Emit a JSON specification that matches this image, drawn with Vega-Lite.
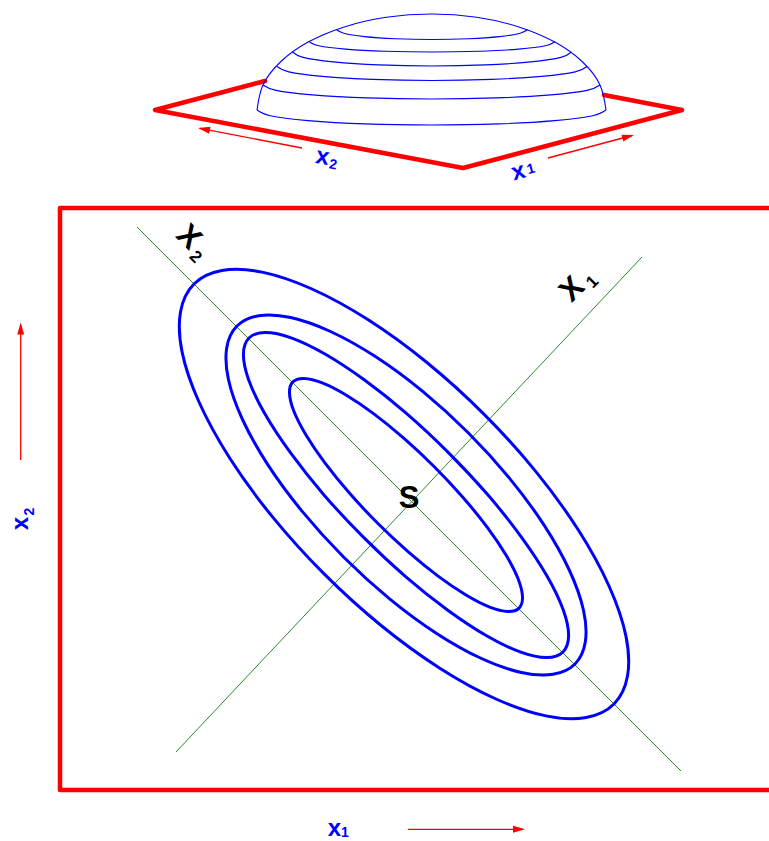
{
  "$schema": "https://vega.github.io/schema/vega-lite/v6.json",
  "width": 769,
  "height": 841,
  "padding": 0,
  "autosize": {"type": "none"},
  "config": {"view": {"stroke": null}},
  "datasets": {
    "ellipses": [
      {"ring": 1, "i": 0, "x": 519.1, "y": 608.1}, {"ring": 1, "i": 1, "x": 522.5, "y": 596.9},
      {"ring": 1, "i": 2, "x": 518.1, "y": 578.7}, {"ring": 1, "i": 3, "x": 506.0, "y": 555.0},
      {"ring": 1, "i": 4, "x": 487.1, "y": 527.1}, {"ring": 1, "i": 5, "x": 462.6, "y": 497.0},
      {"ring": 1, "i": 6, "x": 434.3, "y": 466.7}, {"ring": 1, "i": 7, "x": 404.0, "y": 438.4},
      {"ring": 1, "i": 8, "x": 373.9, "y": 413.9}, {"ring": 1, "i": 9, "x": 346.0, "y": 395.0},
      {"ring": 1, "i": 10, "x": 322.3, "y": 382.9}, {"ring": 1, "i": 11, "x": 304.1, "y": 378.5},
      {"ring": 1, "i": 12, "x": 292.9, "y": 381.9}, {"ring": 1, "i": 13, "x": 289.5, "y": 393.1},
      {"ring": 1, "i": 14, "x": 293.9, "y": 411.3}, {"ring": 1, "i": 15, "x": 306.0, "y": 435.0},
      {"ring": 1, "i": 16, "x": 324.9, "y": 462.9}, {"ring": 1, "i": 17, "x": 349.4, "y": 493.0},
      {"ring": 1, "i": 18, "x": 377.7, "y": 523.3}, {"ring": 1, "i": 19, "x": 408.0, "y": 551.6},
      {"ring": 1, "i": 20, "x": 438.1, "y": 576.1}, {"ring": 1, "i": 21, "x": 466.0, "y": 595.0},
      {"ring": 1, "i": 22, "x": 489.7, "y": 607.1}, {"ring": 1, "i": 23, "x": 507.9, "y": 611.5},

      {"ring": 2, "i": 0, "x": 563.0, "y": 652.0}, {"ring": 2, "i": 1, "x": 568.6, "y": 635.6},
      {"ring": 2, "i": 2, "x": 563.2, "y": 609.8}, {"ring": 2, "i": 3, "x": 547.0, "y": 576.0},
      {"ring": 2, "i": 4, "x": 521.2, "y": 536.8}, {"ring": 2, "i": 5, "x": 487.6, "y": 494.6},
      {"ring": 2, "i": 6, "x": 448.4, "y": 452.6}, {"ring": 2, "i": 7, "x": 406.4, "y": 413.4},
      {"ring": 2, "i": 8, "x": 364.2, "y": 379.8}, {"ring": 2, "i": 9, "x": 325.0, "y": 354.0},
      {"ring": 2, "i": 10, "x": 291.2, "y": 337.8}, {"ring": 2, "i": 11, "x": 265.4, "y": 332.4},
      {"ring": 2, "i": 12, "x": 249.0, "y": 338.0}, {"ring": 2, "i": 13, "x": 243.4, "y": 354.4},
      {"ring": 2, "i": 14, "x": 248.8, "y": 380.2}, {"ring": 2, "i": 15, "x": 265.0, "y": 414.0},
      {"ring": 2, "i": 16, "x": 290.8, "y": 453.2}, {"ring": 2, "i": 17, "x": 324.4, "y": 495.4},
      {"ring": 2, "i": 18, "x": 363.6, "y": 537.4}, {"ring": 2, "i": 19, "x": 405.6, "y": 576.6},
      {"ring": 2, "i": 20, "x": 447.8, "y": 610.2}, {"ring": 2, "i": 21, "x": 487.0, "y": 636.0},
      {"ring": 2, "i": 22, "x": 520.8, "y": 652.2}, {"ring": 2, "i": 23, "x": 546.6, "y": 657.6},

      {"ring": 3, "i": 0, "x": 575.0, "y": 664.0}, {"ring": 3, "i": 1, "x": 585.3, "y": 642.1},
      {"ring": 3, "i": 2, "x": 583.5, "y": 610.3}, {"ring": 3, "i": 3, "x": 569.5, "y": 570.5},
      {"ring": 3, "i": 4, "x": 544.4, "y": 525.6}, {"ring": 3, "i": 5, "x": 509.8, "y": 478.6},
      {"ring": 3, "i": 6, "x": 468.2, "y": 432.8}, {"ring": 3, "i": 7, "x": 422.4, "y": 391.2},
      {"ring": 3, "i": 8, "x": 375.4, "y": 356.6}, {"ring": 3, "i": 9, "x": 330.5, "y": 331.5},
      {"ring": 3, "i": 10, "x": 290.7, "y": 317.5}, {"ring": 3, "i": 11, "x": 258.9, "y": 315.7},
      {"ring": 3, "i": 12, "x": 237.0, "y": 326.0}, {"ring": 3, "i": 13, "x": 226.7, "y": 347.9},
      {"ring": 3, "i": 14, "x": 228.5, "y": 379.7}, {"ring": 3, "i": 15, "x": 242.5, "y": 419.5},
      {"ring": 3, "i": 16, "x": 267.6, "y": 464.4}, {"ring": 3, "i": 17, "x": 302.2, "y": 511.4},
      {"ring": 3, "i": 18, "x": 343.8, "y": 557.2}, {"ring": 3, "i": 19, "x": 389.6, "y": 598.8},
      {"ring": 3, "i": 20, "x": 436.6, "y": 633.4}, {"ring": 3, "i": 21, "x": 481.5, "y": 658.5},
      {"ring": 3, "i": 22, "x": 521.3, "y": 672.5}, {"ring": 3, "i": 23, "x": 553.1, "y": 674.3},

      {"ring": 4, "i": 0, "x": 614.0, "y": 704.0}, {"ring": 4, "i": 1, "x": 627.5, "y": 676.1},
      {"ring": 4, "i": 2, "x": 625.9, "y": 635.9}, {"ring": 4, "i": 3, "x": 609.0, "y": 586.0},
      {"ring": 4, "i": 4, "x": 578.2, "y": 529.8}, {"ring": 4, "i": 5, "x": 535.5, "y": 471.1},
      {"ring": 4, "i": 6, "x": 483.9, "y": 414.1}, {"ring": 4, "i": 7, "x": 426.9, "y": 362.5},
      {"ring": 4, "i": 8, "x": 368.2, "y": 319.8}, {"ring": 4, "i": 9, "x": 312.0, "y": 289.0},
      {"ring": 4, "i": 10, "x": 262.1, "y": 272.1}, {"ring": 4, "i": 11, "x": 221.9, "y": 270.5},
      {"ring": 4, "i": 12, "x": 194.0, "y": 284.0}, {"ring": 4, "i": 13, "x": 180.5, "y": 311.9},
      {"ring": 4, "i": 14, "x": 182.1, "y": 352.1}, {"ring": 4, "i": 15, "x": 199.0, "y": 402.0},
      {"ring": 4, "i": 16, "x": 229.8, "y": 458.2}, {"ring": 4, "i": 17, "x": 272.5, "y": 516.9},
      {"ring": 4, "i": 18, "x": 324.1, "y": 573.9}, {"ring": 4, "i": 19, "x": 381.1, "y": 625.5},
      {"ring": 4, "i": 20, "x": 439.8, "y": 668.2}, {"ring": 4, "i": 21, "x": 496.0, "y": 699.0},
      {"ring": 4, "i": 22, "x": 545.9, "y": 715.9}, {"ring": 4, "i": 23, "x": 586.1, "y": 717.5}
    ],
    "dome": [
      {"part": "rim", "i": 0, "x": 257.0, "y": 110.0}, {"part": "rim", "i": 1, "x": 262.9, "y": 85.2},
      {"part": "rim", "i": 2, "x": 280.4, "y": 62.0}, {"part": "rim", "i": 3, "x": 308.1, "y": 42.1},
      {"part": "rim", "i": 4, "x": 344.3, "y": 26.9}, {"part": "rim", "i": 5, "x": 386.3, "y": 17.3},
      {"part": "rim", "i": 6, "x": 431.5, "y": 14.0}, {"part": "rim", "i": 7, "x": 476.7, "y": 17.3},
      {"part": "rim", "i": 8, "x": 518.8, "y": 26.9}, {"part": "rim", "i": 9, "x": 554.9, "y": 42.1},
      {"part": "rim", "i": 10, "x": 582.6, "y": 62.0}, {"part": "rim", "i": 11, "x": 600.1, "y": 85.2},
      {"part": "rim", "i": 12, "x": 606.0, "y": 110.0},

      {"part": "lat1", "i": 0, "x": 336.5, "y": 29.5}, {"part": "lat1", "i": 1, "x": 343.8, "y": 33.3},
      {"part": "lat1", "i": 2, "x": 364.5, "y": 36.6}, {"part": "lat1", "i": 3, "x": 395.5, "y": 38.7},
      {"part": "lat1", "i": 4, "x": 432.0, "y": 39.5}, {"part": "lat1", "i": 5, "x": 468.5, "y": 38.7},
      {"part": "lat1", "i": 6, "x": 499.5, "y": 36.6}, {"part": "lat1", "i": 7, "x": 520.2, "y": 33.3},
      {"part": "lat1", "i": 8, "x": 527.5, "y": 29.5},

      {"part": "lat2", "i": 0, "x": 309.5, "y": 42.0}, {"part": "lat2", "i": 1, "x": 318.8, "y": 45.8},
      {"part": "lat2", "i": 2, "x": 345.4, "y": 49.1}, {"part": "lat2", "i": 3, "x": 385.1, "y": 51.2},
      {"part": "lat2", "i": 4, "x": 432.0, "y": 52.0}, {"part": "lat2", "i": 5, "x": 478.9, "y": 51.2},
      {"part": "lat2", "i": 6, "x": 518.6, "y": 49.1}, {"part": "lat2", "i": 7, "x": 545.2, "y": 45.8},
      {"part": "lat2", "i": 8, "x": 554.5, "y": 42.0},

      {"part": "lat3", "i": 0, "x": 292.5, "y": 52.0}, {"part": "lat3", "i": 1, "x": 303.1, "y": 57.4},
      {"part": "lat3", "i": 2, "x": 333.4, "y": 61.9}, {"part": "lat3", "i": 3, "x": 378.6, "y": 64.9},
      {"part": "lat3", "i": 4, "x": 432.0, "y": 66.0}, {"part": "lat3", "i": 5, "x": 485.4, "y": 64.9},
      {"part": "lat3", "i": 6, "x": 530.6, "y": 61.9}, {"part": "lat3", "i": 7, "x": 560.9, "y": 57.4},
      {"part": "lat3", "i": 8, "x": 571.5, "y": 52.0},

      {"part": "lat4", "i": 0, "x": 277.0, "y": 66.5}, {"part": "lat4", "i": 1, "x": 288.8, "y": 71.9},
      {"part": "lat4", "i": 2, "x": 322.4, "y": 76.4}, {"part": "lat4", "i": 3, "x": 372.7, "y": 79.4},
      {"part": "lat4", "i": 4, "x": 432.0, "y": 80.5}, {"part": "lat4", "i": 5, "x": 491.3, "y": 79.4},
      {"part": "lat4", "i": 6, "x": 541.6, "y": 76.4}, {"part": "lat4", "i": 7, "x": 575.2, "y": 71.9},
      {"part": "lat4", "i": 8, "x": 587.0, "y": 66.5},

      {"part": "lat5", "i": 0, "x": 263.0, "y": 85.0}, {"part": "lat5", "i": 1, "x": 276.0, "y": 90.4},
      {"part": "lat5", "i": 2, "x": 312.4, "y": 94.9}, {"part": "lat5", "i": 3, "x": 367.0, "y": 97.9},
      {"part": "lat5", "i": 4, "x": 431.5, "y": 99.0}, {"part": "lat5", "i": 5, "x": 496.0, "y": 97.9},
      {"part": "lat5", "i": 6, "x": 550.6, "y": 94.9}, {"part": "lat5", "i": 7, "x": 587.0, "y": 90.4},
      {"part": "lat5", "i": 8, "x": 600.0, "y": 85.0},

      {"part": "lat6", "i": 0, "x": 257.0, "y": 110.0}, {"part": "lat6", "i": 1, "x": 270.3, "y": 115.7},
      {"part": "lat6", "i": 2, "x": 308.1, "y": 120.6}, {"part": "lat6", "i": 3, "x": 364.7, "y": 123.9},
      {"part": "lat6", "i": 4, "x": 431.5, "y": 125.0}, {"part": "lat6", "i": 5, "x": 498.3, "y": 123.9},
      {"part": "lat6", "i": 6, "x": 554.9, "y": 120.6}, {"part": "lat6", "i": 7, "x": 592.7, "y": 115.7},
      {"part": "lat6", "i": 8, "x": 606.0, "y": 110.0}
    ],
    "frame": [
      {"part": "plane", "i": 0, "x": 265, "y": 81},
      {"part": "plane", "i": 1, "x": 155, "y": 110},
      {"part": "plane", "i": 2, "x": 463, "y": 168},
      {"part": "plane", "i": 3, "x": 682, "y": 110},
      {"part": "plane", "i": 4, "x": 604, "y": 95},
      {"part": "box", "i": 0, "x": 790, "y": 208},
      {"part": "box", "i": 1, "x": 60, "y": 208},
      {"part": "box", "i": 2, "x": 60, "y": 790},
      {"part": "box", "i": 3, "x": 790, "y": 790}
    ],
    "axes": [
      {"axis": "X1", "i": 0, "x": 176, "y": 752},
      {"axis": "X1", "i": 1, "x": 642, "y": 257},
      {"axis": "X2", "i": 0, "x": 137, "y": 227},
      {"axis": "X2", "i": 1, "x": 681, "y": 771}
    ],
    "arrows": [
      {"arrow": "a1", "i": 0, "x": 302, "y": 148}, {"arrow": "a1", "i": 1, "x": 200, "y": 128.4},
      {"arrow": "a2", "i": 0, "x": 548, "y": 158}, {"arrow": "a2", "i": 1, "x": 632, "y": 135.5},
      {"arrow": "a3", "i": 0, "x": 20.7, "y": 460}, {"arrow": "a3", "i": 1, "x": 20.7, "y": 325},
      {"arrow": "a4", "i": 0, "x": 408, "y": 829.3}, {"arrow": "a4", "i": 1, "x": 523, "y": 829.3}
    ],
    "heads": [
      {"arrow": "a1", "x": 198, "y": 128, "heading": 281},
      {"arrow": "a2", "x": 634, "y": 135, "heading": 75},
      {"arrow": "a3", "x": 20.7, "y": 322.5, "heading": 0},
      {"arrow": "a4", "x": 525, "y": 829.3, "heading": 90}
    ],
    "blueMain": [
      {"t": "x", "x": 334.5, "y": 829, "tilt": 0},
      {"t": "x", "x": 20.5, "y": 523.5, "tilt": -90},
      {"t": "x", "x": 322.5, "y": 157, "tilt": 10},
      {"t": "x", "x": 518.5, "y": 172, "tilt": -15}
    ],
    "blueSub": [
      {"t": "1", "x": 345, "y": 832.5, "tilt": 0},
      {"t": "2", "x": 29.5, "y": 511.5, "tilt": -90},
      {"t": "2", "x": 333, "y": 165, "tilt": 10},
      {"t": "1", "x": 531, "y": 169.5, "tilt": -15}
    ],
    "blackMain": [
      {"t": "X", "x": 188.5, "y": 237.5, "tilt": 45},
      {"t": "X", "x": 572.5, "y": 289.5, "tilt": -45}
    ],
    "blackSub": [
      {"t": "2", "x": 195.5, "y": 257, "tilt": 45},
      {"t": "1", "x": 592.5, "y": 282, "tilt": -45}
    ],
    "centre": [
      {"t": "S", "x": 409, "y": 499}
    ]
  },
  "encoding": {
    "x": {"field": "x", "type": "quantitative", "axis": null,
          "scale": {"domain": [0, 769], "nice": false, "zero": false}},
    "y": {"field": "y", "type": "quantitative", "axis": null,
          "scale": {"domain": [0, 841], "nice": false, "zero": false, "reverse": true}}
  },
  "layer": [
    {
      "data": {"name": "frame"},
      "mark": {"type": "line", "color": "#ff0000", "strokeWidth": 4.5, "strokeJoin": "round", "strokeCap": "round", "clip": true},
      "encoding": {
        "detail": {"field": "part", "type": "nominal"},
        "order": {"field": "i", "type": "quantitative"}
      }
    },
    {
      "data": {"name": "axes"},
      "mark": {"type": "line", "color": "#2a8a2a", "strokeWidth": 1},
      "encoding": {
        "detail": {"field": "axis", "type": "nominal"},
        "order": {"field": "i", "type": "quantitative"}
      }
    },
    {
      "data": {"name": "ellipses"},
      "mark": {"type": "line", "color": "#0000ff", "strokeWidth": 3, "interpolate": "cardinal-closed"},
      "encoding": {
        "detail": {"field": "ring", "type": "nominal"},
        "order": {"field": "i", "type": "quantitative"}
      }
    },
    {
      "data": {"name": "dome"},
      "mark": {"type": "line", "color": "#0000ff", "strokeWidth": 1.1, "interpolate": "natural"},
      "encoding": {
        "detail": {"field": "part", "type": "nominal"},
        "order": {"field": "i", "type": "quantitative"}
      }
    },
    {
      "data": {"name": "arrows"},
      "mark": {"type": "line", "color": "#ff0000", "strokeWidth": 1.3},
      "encoding": {
        "detail": {"field": "arrow", "type": "nominal"},
        "order": {"field": "i", "type": "quantitative"}
      }
    },
    {
      "data": {"name": "heads"},
      "mark": {"type": "point", "shape": "M0,0L0.58,2L-0.58,2Z", "filled": true, "size": 144, "color": "#ff0000", "opacity": 1, "strokeWidth": 0},
      "encoding": {
        "angle": {"field": "heading", "type": "quantitative", "scale": null}
      }
    },
    {
      "data": {"name": "blueMain"},
      "mark": {"type": "text", "font": "Liberation Sans", "fontWeight": "bold", "fontSize": 24, "color": "#0000ff", "align": "center", "baseline": "middle"},
      "encoding": {
        "text": {"field": "t"},
        "angle": {"field": "tilt", "type": "quantitative", "scale": null}
      }
    },
    {
      "data": {"name": "blueSub"},
      "mark": {"type": "text", "font": "Liberation Sans", "fontWeight": "bold", "fontSize": 14, "color": "#0000ff", "align": "center", "baseline": "middle"},
      "encoding": {
        "text": {"field": "t"},
        "angle": {"field": "tilt", "type": "quantitative", "scale": null}
      }
    },
    {
      "data": {"name": "blackMain"},
      "mark": {"type": "text", "font": "Liberation Sans", "fontWeight": "bold", "fontSize": 31, "color": "#000000", "align": "center", "baseline": "middle"},
      "encoding": {
        "text": {"field": "t"},
        "angle": {"field": "tilt", "type": "quantitative", "scale": null}
      }
    },
    {
      "data": {"name": "blackSub"},
      "mark": {"type": "text", "font": "Liberation Sans", "fontWeight": "bold", "fontSize": 17, "color": "#000000", "align": "center", "baseline": "middle"},
      "encoding": {
        "text": {"field": "t"},
        "angle": {"field": "tilt", "type": "quantitative", "scale": null}
      }
    },
    {
      "data": {"name": "centre"},
      "mark": {"type": "text", "font": "Liberation Sans", "fontWeight": "bold", "fontSize": 31, "color": "#000000", "align": "center", "baseline": "middle"},
      "encoding": {
        "text": {"field": "t"}
      }
    }
  ]
}
